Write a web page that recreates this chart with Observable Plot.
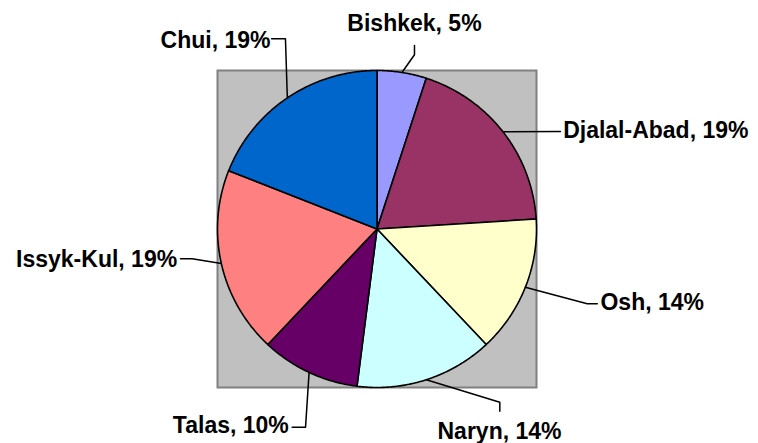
<!DOCTYPE html>
<html>
<head>
<meta charset="utf-8">
<script src="https://cdn.jsdelivr.net/npm/d3@7"></script>
<script src="https://cdn.jsdelivr.net/npm/@observablehq/plot@0.6"></script>
<style>
  html, body { margin: 0; padding: 0; background: #fff; }
</style>
</head>
<body>
<div id="chart"></div>
<script>
// ---- data ----
const regions = ["Bishkek", "Djalal-Abad", "Osh", "Naryn", "Talas", "Issyk-Kul", "Chui"];
const shares = [5, 19, 14, 14, 10, 19, 19];
const sliceColors = ["#9999FF", "#993366", "#FFFFCC", "#CCFFFF", "#660066", "#FF8080", "#0066CC"];

// ---- label layout (in units of pie radius, relative to centre) ----
const labelLayout = {
  "Bishkek":     {text: [0.235, 1.293],  anchor: "middle", leader: [[0.235, 1.099], [0.235, 1.158]]},
  "Djalal-Abad": {text: [1.167, 0.621],  anchor: "start",  leader: [[1.150, 0.615]]},
  "Osh":         {text: [1.401, -0.464], anchor: "start",  leader: [[1.318, -0.472], [1.381, -0.472]]},
  "Naryn":       {text: [0.768, -1.280], anchor: "middle", leader: [[0.770, -1.093], [0.770, -1.150]]},
  "Talas":       {text: [-0.553, -1.242], anchor: "end",   leader: [[-0.448, -1.250], [-0.532, -1.250]]},
  "Issyk-Kul":   {text: [-1.253, -0.195], anchor: "end",   leader: [[-1.159, -0.188], [-1.232, -0.188]]},
  "Chui":        {text: [-0.668, 1.187], anchor: "end",    leader: [[-0.574, 1.200], [-0.661, 1.200]]}
};

const rows = regions.map((r, i) => ({region: r, share: shares[i]}));
const total = d3.sum(shares);
const arcs = d3.pie().sort(null).value(d => d.share)(rows);

// slice polygons (centre + arc samples)
const slicePts = [];
for (const a of arcs) {
  slicePts.push({region: a.data.region, x: 0, y: 0});
  const n = Math.max(8, Math.ceil((a.endAngle - a.startAngle) / 0.01));
  for (let k = 0; k <= n; k++) {
    const t = a.startAngle + (a.endAngle - a.startAngle) * k / n;
    slicePts.push({region: a.data.region, x: Math.sin(t), y: Math.cos(t)});
  }
}

// leader lines from mid-angle on the rim
const leaderPts = [];
const labels = [];
for (const a of arcs) {
  const r = a.data.region;
  const L = labelLayout[r];
  const mid = (a.startAngle + a.endAngle) / 2;
  leaderPts.push({region: r, x: Math.sin(mid), y: Math.cos(mid)});
  for (const p of L.leader) leaderPts.push({region: r, x: p[0], y: p[1]});
  labels.push({
    region: r,
    x: L.text[0], y: L.text[1], anchor: L.anchor,
    label: `${r}, ${Math.round(a.data.share / total * 100)}%`
  });
}

const font = {fontFamily: "'Liberation Sans', Arial, sans-serif", fontWeight: "bold", fontSize: 23, fill: "black"};

const textMarks = ["start", "middle", "end"].map(anc =>
  Plot.text(labels.filter(d => d.anchor === anc), {
    x: "x", y: "y", text: "label", textAnchor: anc, ...font
  })
);

const chart = Plot.plot({
  width: 758,
  height: 443,
  marginLeft: 217,
  marginRight: 222,
  marginTop: 70,
  marginBottom: 56,
  x: {domain: [-1, 1], axis: null},
  y: {domain: [-1, 1], axis: null},
  color: {domain: regions, range: sliceColors},
  style: {background: "white"},
  marks: [
    Plot.frame({fill: "#C0C0C0", stroke: "#808080", strokeWidth: 2}),
    Plot.line(slicePts, {
      x: "x", y: "y", z: "region", fill: "region",
      stroke: "black", strokeWidth: 1.6, curve: "linear-closed", strokeLinejoin: "round"
    }),
    Plot.line(leaderPts, {x: "x", y: "y", z: "region", stroke: "black", strokeWidth: 1.5}),
    ...textMarks
  ]
});

document.getElementById("chart").appendChild(chart);
</script>
</body>
</html>
